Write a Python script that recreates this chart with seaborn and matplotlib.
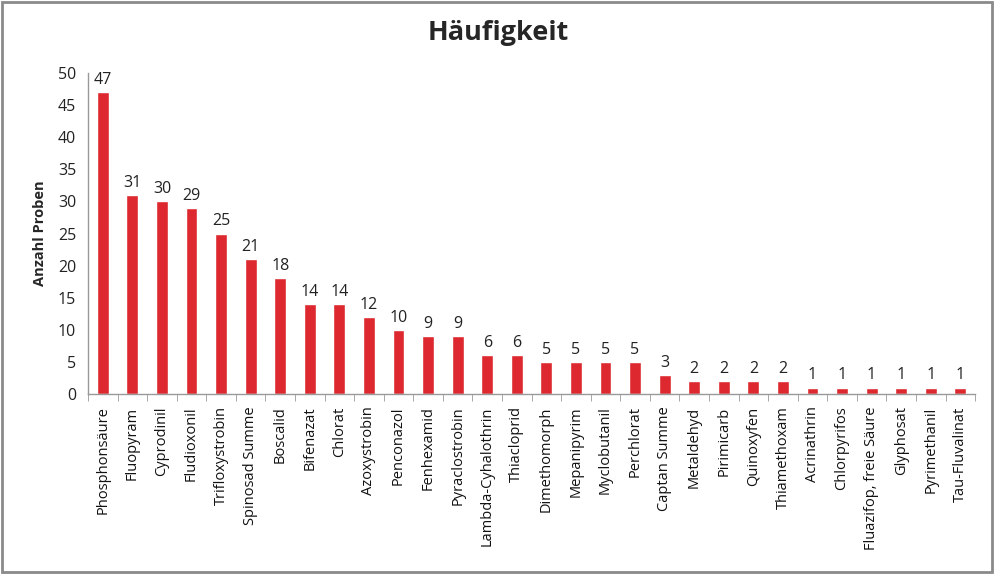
import numpy as np
import pandas as pd
import matplotlib
matplotlib.use("Agg")
import matplotlib.pyplot as plt
import seaborn as sns

# Data
wirkstoffe = ['Phosphonsäure', 'Fluopyram', 'Cyprodinil', 'Fludioxonil', 'Trifloxystrobin',
              'Spinosad Summe', 'Boscalid', 'Bifenazat', 'Chlorat', 'Azoxystrobin',
              'Penconazol', 'Fenhexamid', 'Pyraclostrobin', 'Lambda-Cyhalothrin', 'Thiacloprid',
              'Dimethomorph', 'Mepanipyrim', 'Myclobutanil', 'Perchlorat', 'Captan Summe',
              'Metaldehyd', 'Pirimicarb', 'Quinoxyfen', 'Thiamethoxam', 'Acrinathrin',
              'Chlorpyrifos', 'Fluazifop, freie Säure', 'Glyphosat', 'Pyrimethanil', 'Tau-Fluvalinat']
anzahl = [47, 31, 30, 29, 25, 21, 18, 14, 14, 12, 10, 9, 9, 6, 6, 5, 5, 5, 5, 3,
          2, 2, 2, 2, 1, 1, 1, 1, 1, 1]
y_ticks = [0, 5, 10, 15, 20, 25, 30, 35, 40, 45, 50]

df = pd.DataFrame({'Wirkstoff': wirkstoffe, 'Anzahl': anzahl})

sns.set_style("white")
plt.rcParams['font.family'] = ['Open Sans', 'DejaVu Sans']

fig = plt.figure(figsize=(9.96, 5.74), dpi=100)
ax = fig.add_axes([0.0884, 0.3136, 0.8906, 0.5592])

sns.barplot(data=df, x='Wirkstoff', y='Anzahl', color='#DC282E', width=0.4,
            saturation=1, ax=ax)

# value labels above bars
ax.bar_label(ax.containers[0], labels=[str(v) for v in anzahl], padding=3,
             fontsize=11.5, color='#222222')

ax.set_ylim(0, 50)
ax.set_yticks(y_ticks)
ax.set_xlim(-0.5, len(wirkstoffe) - 0.5)
ax.tick_params(axis='y', labelsize=11.5, length=5, color='#999999', labelcolor='#222222')
ax.tick_params(axis='x', which='major', labelsize=10.5, length=0, pad=9, labelcolor='#111111')
ax.set_xticks(np.arange(len(wirkstoffe)))
ax.set_xticklabels(wirkstoffe, rotation=90)
ax.set_xticks(np.arange(-0.5, len(wirkstoffe)), minor=True)
ax.tick_params(axis='x', which='minor', length=5, color='#999999', direction='out')
ax.xaxis.set_tick_params(which='minor', bottom=True)

for s in ['top', 'right']:
    ax.spines[s].set_visible(False)
for s in ['left', 'bottom']:
    ax.spines[s].set_color('#999999')
    ax.spines[s].set_linewidth(1)

ax.set_xlabel('')
ax.set_ylabel('Anzahl Proben', fontsize=10.5, fontweight='bold', labelpad=8)
fig.suptitle('Häufigkeit', fontsize=19.5, fontweight='bold', y=0.965)

# frame around the whole chart
fig.patches.append(plt.Rectangle((0.002, 0.004), 0.994, 0.992, transform=fig.transFigure,
                                 fill=False, edgecolor='#8a8a8a', linewidth=2))

fig.savefig('out.png', dpi=100)
